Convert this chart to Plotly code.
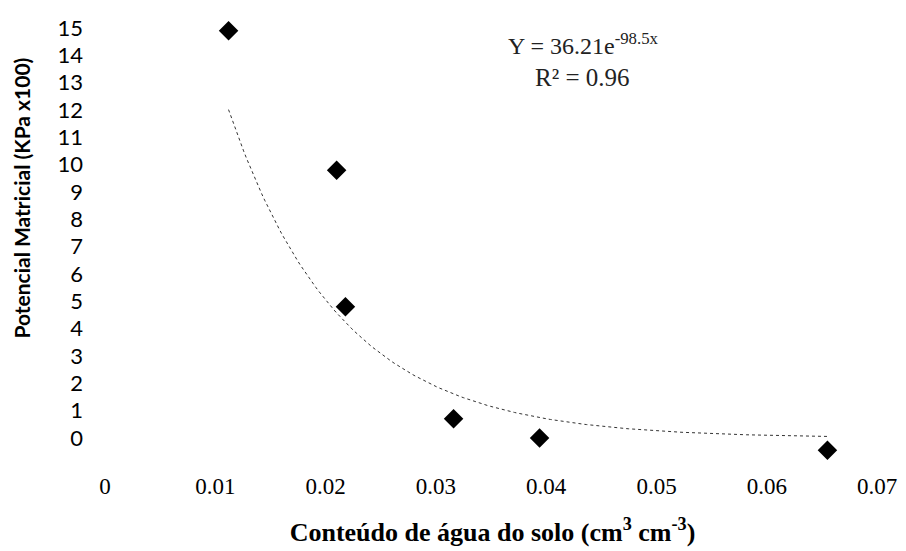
import numpy as np
import plotly.graph_objects as go

# Soil water content (cm3 cm-3) and matric potential (KPa x100)
water_content = [0.0112, 0.0210, 0.0218, 0.0316, 0.0394, 0.0655]
matric_potential = [14.9, 9.8, 4.8, 0.7, 0.0, -0.45]

# Exponential trendline coefficients: Y = a * exp(b * x)
coef_a = 36.21
coef_b = -98.5
r_squared = 0.96

x_ticks = [0, 0.01, 0.02, 0.03, 0.04, 0.05, 0.06, 0.07]
x_tick_text = ["0", "0.01", "0.02", "0.03", "0.04", "0.05", "0.06", "0.07"]
y_ticks = list(range(0, 16))

# trendline sampled over the measured range
xt = np.linspace(min(water_content), max(water_content), 200)
yt = coef_a * np.exp(coef_b * xt)

fig = go.Figure()
fig.add_trace(go.Scatter(
    x=xt, y=yt, mode="lines",
    line=dict(color="#333333", width=1, dash="dot"),
    hoverinfo="skip", showlegend=False,
))
fig.add_trace(go.Scatter(
    x=water_content, y=matric_potential, mode="markers",
    marker=dict(symbol="diamond", size=15, color="black"),
    showlegend=False,
))

fig.add_annotation(
    x=0.0434, y=14.4, xref="x", yref="y", showarrow=False,
    text=f"Y = {coef_a:.2f}e<sup>{coef_b:g}x</sup>",
    font=dict(family="Liberation Serif", size=24, color="#222222"),
)
fig.add_annotation(
    x=0.0433, y=13.2, xref="x", yref="y", showarrow=False,
    text=f"R² = {r_squared:.2f}",
    font=dict(family="Liberation Serif", size=25, color="#222222"),
)

# vertical axis title
fig.add_annotation(
    x=-0.0925, y=0.591, xref="paper", yref="paper", showarrow=False,
    textangle=-90, xanchor="center", yanchor="middle",
    text="<b>Potencial Matricial (KPa x100)</b>",
    font=dict(family="Lato", size=21, color="black"),
)

fig.update_layout(
    width=906, height=551,
    margin=dict(l=95, r=16, t=10, b=81),
    paper_bgcolor="white", plot_bgcolor="white",
    xaxis=dict(
        range=[-0.000907, 0.07117],
        tickvals=x_ticks, ticktext=x_tick_text,
        showgrid=False, zeroline=False, showline=False, ticks="",
        tickfont=dict(family="Liberation Serif", size=23, color="black"),
        title=dict(
            text="<b>Conteúdo de água do solo (cm<sup>3</sup> cm<sup>-3</sup>)</b>",
            font=dict(family="Liberation Serif", size=26, color="black"),
            standoff=24,
        ),
    ),
    yaxis=dict(
        range=[-1.1707, 15.659],
        tickvals=y_ticks,
        showgrid=False, zeroline=False, showline=False, ticks="",
        ticklabelstandoff=11,
        tickfont=dict(family="Lato", size=22, color="black"),
    ),
)

fig.write_html("out.html")
